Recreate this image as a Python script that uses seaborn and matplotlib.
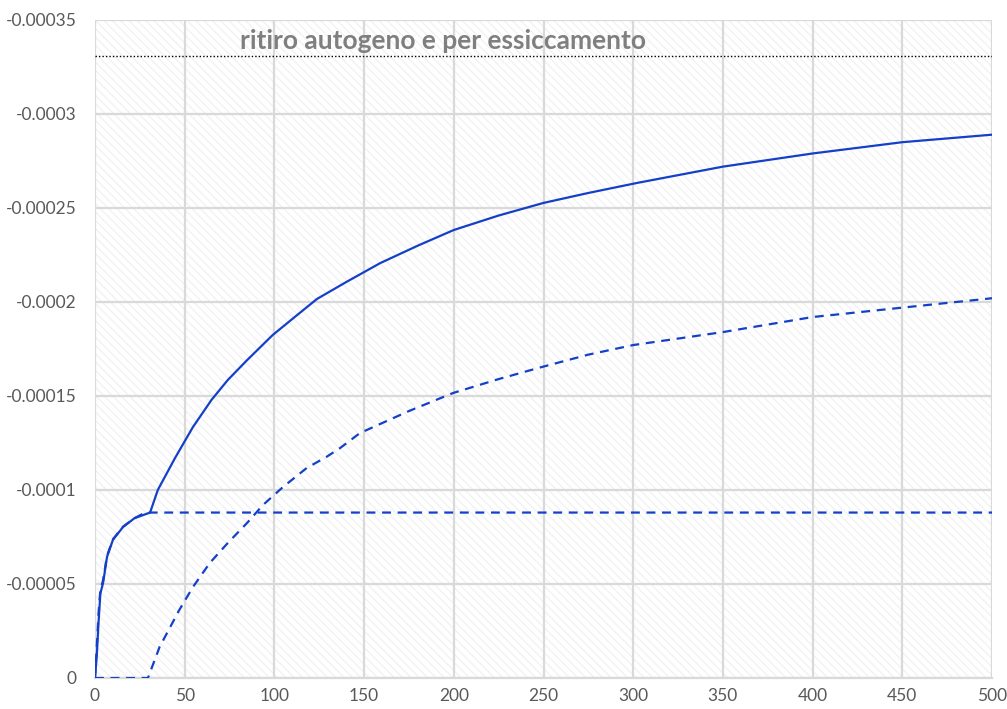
import numpy as np
import pandas as pd
import matplotlib
matplotlib.use("Agg")
import matplotlib.pyplot as plt
import seaborn as sns

# total shrinkage (autogenous + drying), solid line
days_total = [0, 1, 2, 3, 4.5, 6.7, 10, 15.6, 22, 30.7, 35, 44.6, 54.6, 65, 74, 84.7, 99, 112.6, 123.7,
              140, 159, 180, 200, 225, 250, 275, 302, 350, 400, 450, 500]
total = [0, -0.000012, -0.000030, -0.000045, -0.0000505, -0.0000644, -0.0000735, -0.0000803, -0.000085,
         -0.0000880, -0.000100, -0.000117, -0.0001335, -0.000148, -0.0001585, -0.000169, -0.0001824,
         -0.000193, -0.0002016, -0.0002106, -0.0002207, -0.000230, -0.0002383, -0.000246, -0.0002527,
         -0.000258, -0.0002633, -0.000272, -0.000279, -0.000285, -0.000289]

# autogenous shrinkage, dashed line
days_auto = [0, 1, 2, 3, 4.5, 6.7, 10, 15.6, 22, 28, 500]
auto = [0, -0.000017, -0.000035, -0.000047, -0.000052, -0.0000650, -0.0000738, -0.0000805, -0.000085,
        -0.0000880, -0.0000880]

# drying shrinkage, dashed line
days_dry = [0, 29.5, 36, 47, 54.6, 64, 74, 84.7, 93.6, 104.8, 118, 129, 136.6, 147.7, 175, 199.6, 225,
            249, 275, 300, 350, 400, 450, 500]
dry = [0, 0, -0.0000165, -0.0000362, -0.0000484, -0.0000612, -0.0000718, -0.0000824, -0.000092,
       -0.0001016, -0.0001117, -0.0001176, -0.0001223, -0.0001303, -0.000142, -0.0001516, -0.000159,
       -0.0001654, -0.000172, -0.0001771, -0.000184, -0.000192, -0.000197, -0.000202]

limit_value = -0.000331
title_text = "ritiro autogeno e per essiccamento"

x_ticks = [0, 50, 100, 150, 200, 250, 300, 350, 400, 450, 500]
y_ticks = [0, -0.00005, -0.0001, -0.00015, -0.0002, -0.00025, -0.0003, -0.00035]
y_labels = ["0", "-0.00005", "-0.0001", "-0.00015", "-0.0002", "-0.00025", "-0.0003", "-0.00035"]

sns.set_theme(style="white")
plt.rcParams['font.family'] = ['Lato', 'DejaVu Sans']
plt.rcParams['hatch.color'] = '#f1f1f1'
plt.rcParams['hatch.linewidth'] = 0.9

fig = plt.figure(figsize=(10.07, 7.09), dpi=100)
ax = fig.add_axes([95/1007, 1 - 678/709, (992 - 95)/1007, (678 - 20)/709])

ax.set_facecolor('white')
ax.patch.set_hatch('\\\\\\\\')
ax.patch.set_edgecolor('#f1f1f1')

blue = '#1440c8'
df_t = pd.DataFrame({'d': days_total, 'v': total})
df_a = pd.DataFrame({'d': days_auto, 'v': auto})
df_d = pd.DataFrame({'d': days_dry, 'v': dry})

sns.lineplot(data=df_t, x='d', y='v', ax=ax, color=blue, lw=1.6, estimator=None, sort=False, zorder=3)
sns.lineplot(data=df_a, x='d', y='v', ax=ax, color=blue, lw=1.6, estimator=None, sort=False, zorder=3,
             linestyle=(0, (4, 3)))
sns.lineplot(data=df_d, x='d', y='v', ax=ax, color=blue, lw=1.6, estimator=None, sort=False, zorder=3,
             linestyle=(0, (4, 3)))
ax.plot([0, 500], [limit_value, limit_value], color='black', lw=1.0, linestyle=(0, (1, 1.5)), zorder=3)

ax.text(81, -0.000339, title_text, color='#7f7f7f', fontsize=19, fontweight='bold',
        ha='left', va='center', zorder=4)

ax.set_xlim(0, 500)
ax.set_ylim(0, -0.00035)
ax.set_xticks(x_ticks)
ax.set_xticklabels([str(t) for t in x_ticks])
ax.set_yticks(y_ticks)
ax.set_yticklabels(y_labels)
ax.grid(True, color='#d9d9d9', lw=1.6, zorder=1)
ax.set_axisbelow(True)
for s in ['top', 'right', 'left']:
    ax.spines[s].set_visible(False)
ax.spines['bottom'].set_color('#d9d9d9')
ax.spines['bottom'].set_linewidth(1.6)
ax.tick_params(axis='both', length=0, labelsize=12.5, labelcolor='#595959')
ax.tick_params(axis='y', pad=13)
ax.tick_params(axis='x', pad=7)
ax.set_xlabel('')
ax.set_ylabel('')

fig.savefig('out.png', dpi=100)
